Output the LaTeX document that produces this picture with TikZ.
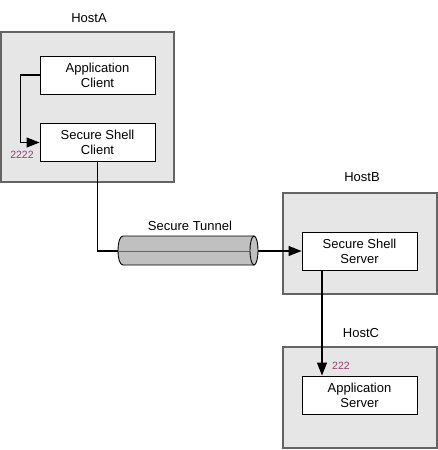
\documentclass[tikz,border=0pt]{standalone}
\usepackage{fontspec}
\setmainfont{Liberation Sans}
\usetikzlibrary{arrows.meta}
\definecolor{hostfill}{RGB}{230,230,230}
\definecolor{hostline}{RGB}{100,100,100}
\definecolor{tunfill}{RGB}{192,192,192}
\definecolor{portcol}{RGB}{150,60,110}
\begin{document}
\begin{tikzpicture}[x=1pt,y=-1pt,
  host/.style={draw=hostline,line width=1.4pt,fill=hostfill,minimum width=#1,inner sep=0pt},
  comp/.style={draw=black,line width=0.9pt,fill=white,minimum width=115pt,minimum height=38pt,inner sep=0pt,align=center,font=\fontsize{13}{15}\selectfont},
  hostlbl/.style={font=\fontsize{13}{15}\selectfont,inner sep=0pt},
  portlbl/.style={font=\fontsize{10.5}{12}\selectfont,text=portcol,inner sep=0pt},
  conn/.style={draw=black,line width=1.1pt},
  arr/.style={conn,-{Triangle[length=13pt,width=10pt]}}]
\useasboundingbox (0,0) rectangle (438,450);
% hosts
\node[host=173pt,minimum height=150pt] (hostA) at (87.5,107) {};
\node[host=154pt,minimum height=101pt] (hostB) at (360,243.5) {};
\node[host=154pt,minimum height=101pt] (hostC) at (360,397.5) {};
\node[hostlbl] (lblA) at (89,18) {HostA};
\node[hostlbl] (lblB) at (362,177) {HostB};
\node[hostlbl] (lblC) at (361,333) {HostC};
% components
\node[comp] (ac) at (97.5,75) {Application\\Client};
\node[comp] (ssc) at (97.5,142.5) {Secure Shell\\Client};
\node[comp] (sss) at (359.5,251) {Secure Shell\\Server};
\node[comp] (as) at (359.5,395) {Application\\Server};
% tunnel
\coordinate (tunL) at (118,251);
\coordinate (tunR) at (258,251);
\draw[line width=0.9pt,fill=tunfill] (123,236) -- (254,236) -- (254,265) -- (123,265)
  .. controls (116.3,265) and (116.3,236) .. (123,236) -- cycle;
\draw[line width=0.6pt,draw=gray!80!black] (118,251) -- (252,251);
\draw[line width=0.9pt,fill=tunfill] (254,250.5) ellipse [x radius=4, y radius=14.5];
\node[hostlbl] (lblT) at (190,226) {Secure Tunnel};
% connectors
\draw[arr] (ac.west) -- ++(-19pt,0) |- (ssc.west);
\draw[conn] (ssc.south) |- (tunL);
\draw[arr] (tunR) -- (sss.west);
\draw[arr] ([xshift=-37.5pt]sss.south) -- ([xshift=-37.5pt]as.north);
% ports
\node[portlbl] (p1) at (22,155) {2222};
\node[portlbl] (p2) at (341,366) {222};
\end{tikzpicture}
\end{document}
